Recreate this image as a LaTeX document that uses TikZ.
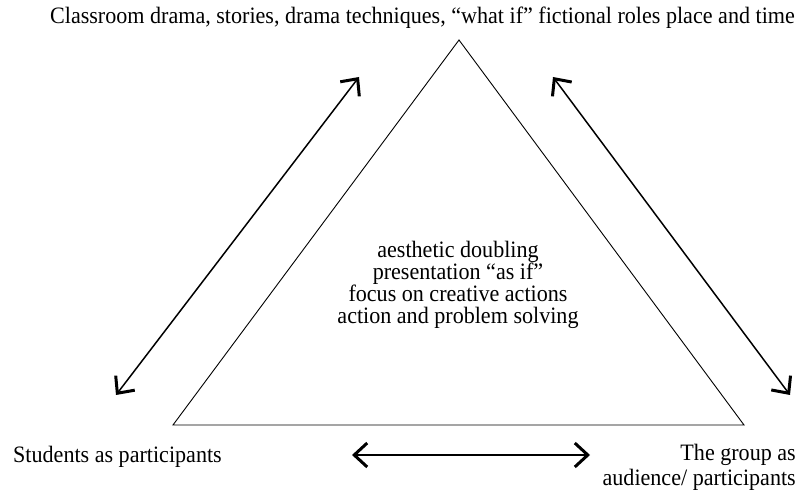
\documentclass[tikz,border=0pt]{standalone}
\usepackage{fontspec}
\setmainfont[FakeStretch=0.94]{Liberation Serif}
\usetikzlibrary{arrows.meta}
\tikzset{
  lbl/.style={inner sep=0pt, font=\fontsize{23.5bp}{25bp}\selectfont},
  midtxt/.style={inner sep=0pt, align=center, font=\fontsize{23.5bp}{22bp}\selectfont},
  dblarrow/.style={line width=1.5bp, >={Straight Barb[length=13bp,width=24bp,line width=3bp]}, <->},
}
\begin{document}
\begin{tikzpicture}
	\useasboundingbox (0,0) rectangle (798bp,491bp);
		%%
  \coordinate (Top) at (459bp,451bp);
  \coordinate (Left) at (173bp,66bp);
  \coordinate (Right) at (744bp,66bp);
  \coordinate (A1) at (359bp,414bp);
  \coordinate (A2) at (116bp,96bp);
  \coordinate (B1) at (553bp,414bp);
  \coordinate (B2) at (790bp,96bp);
  \coordinate (C1) at (352bp,36bp);
  \coordinate (C2) at (590bp,36bp);
  \node (Drama) at (795bp,467bp) [lbl,anchor=base east] {Classroom drama, stories, drama techniques, “what if” fictional roles place and time};
  \node (Students) at (13bp,29bp) [lbl,anchor=base west] {Students as participants};
  \node (Group) at (796bp,47bp) [lbl,anchor=north east,align=right] {The group as\\audience/ participants};
  \node (Doubling) at (458bp,206bp) [midtxt] {aesthetic doubling\\presentation “as if”\\focus on creative actions\\action and problem solving};
  \draw [line width=0.9bp,line join=miter] (Top) -- (Right) -- (Left) -- cycle;
  \draw [dblarrow] (A1) -- (A2);
  \draw [dblarrow] (B1) -- (B2);
  \draw [dblarrow] (C1) -- (C2);
		%
\end{tikzpicture}
\end{document}
